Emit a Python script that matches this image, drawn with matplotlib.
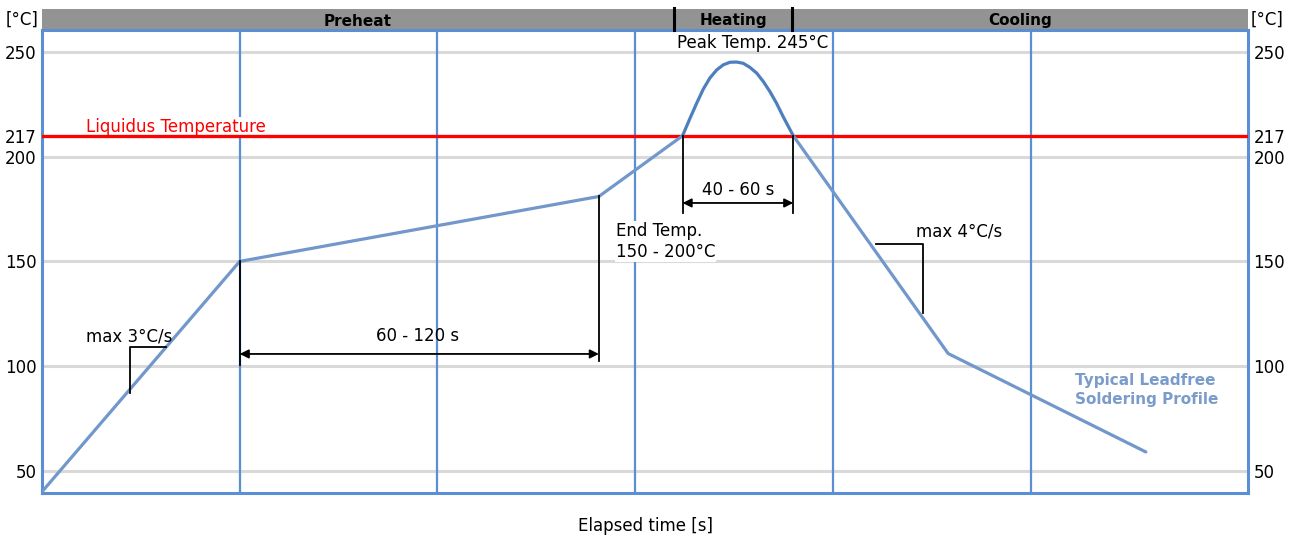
"""
Typical leadfree soldering profile (reflow chart)
"""

import matplotlib
matplotlib.use('Agg')
import matplotlib.pyplot as plt
from matplotlib.patches import Rectangle

# profile data (elapsed time [s], temperature [°C])
ramp_t = [0, 60, 169, 194.4]
ramp_T = [40, 150, 181, 210]

peak_t = [194.4, 196.7, 198.7, 200.7, 202.7, 204.8, 206.8, 208.8, 210.8,
          212.8, 214.8, 216.9, 218.9, 220.9, 222.9, 224.9, 228.0]
peak_T = [210, 218.5, 225.6, 232.3, 237.6, 241.5, 243.9, 245.1, 245.2,
          244.6, 242.7, 239.9, 235.9, 231.1, 225.6, 219.2, 210]

cool_t = [228.0, 275, 335]
cool_T = [210, 106, 59]

# liquidus line is drawn at 210 on the linear scale but labelled 217
liquidus_pos = 210
liquidus_label = '217'

ytick_vals = [50, 100, 150, 200, liquidus_pos, 250]
ytick_labels = ['50', '100', '150', '200', liquidus_label, '250']
grid_T = [50, 100, 150, 200, 250]
grid_t = [60, 120, 180, 240, 300]

phases = ['Preheat', 'Heating', 'Cooling']
phase_edges = [0, 191.8, 227.6, 366]

BLUE_GRID = '#5b8fd5'
PROFILE = '#7197cb'
PEAK = '#4d7fbf'
TEXT_BLUE = '#7a9ccb'
FS = 12
FS_BOLD = 11

fig = plt.figure(figsize=(12.93, 5.36), dpi=100)
ax = fig.add_axes([42/1293, 43/536, 1206/1293, 463/536])
ax.set_xlim(0, 366)
ax.set_ylim(39.4, 260.5)

# grid
for T in grid_T:
    ax.axhline(T, color='#d9d9d9', lw=2.2, zorder=1)
for t in grid_t:
    ax.axvline(t, color=BLUE_GRID, lw=1.6, zorder=2)
ax.axhline(liquidus_pos, color='#ff0000', lw=2.4, zorder=4)

for s in ax.spines.values():
    s.set_color(BLUE_GRID)
    s.set_linewidth(2.2)

ax.set_xticks([])
ax.set_yticks(ytick_vals)
ax.set_yticklabels(ytick_labels)
ax.tick_params(axis='y', length=0, labelsize=FS, labelright=True, pad=4)

# profile
ax.plot(ramp_t, ramp_T, color=PROFILE, lw=2.3, zorder=5, solid_capstyle='round')
ax.plot(cool_t, cool_T, color=PROFILE, lw=2.3, zorder=5, solid_capstyle='round')
ax.plot(peak_t, peak_T, color=PEAK, lw=2.3, zorder=6, solid_capstyle='round')

# dimension lines
k = dict(color='black', lw=1.3, zorder=7)
ax.plot([60, 60], [150, 100.5], **k)
ax.plot([169, 169], [181, 102.4], **k)
ax.plot([194.4, 194.4], [210, 173.1], **k)
ax.plot([228, 228], [210, 173.1], **k)
# slope markers
ax.plot([37.6, 26.7, 26.7], [109.1, 109.1, 87.2], **k)
ax.plot([253.1, 267.4, 267.4], [158.3, 158.3, 125.4], **k)

arrow = dict(arrowstyle='<|-|>', color='black', lw=1.3, mutation_scale=13,
             shrinkA=0, shrinkB=0)
ax.annotate('', xy=(60, 105.8), xytext=(169, 105.8), arrowprops=arrow, zorder=7)
ax.annotate('', xy=(194.4, 177.9), xytext=(228, 177.9), arrowprops=arrow, zorder=7)

white = dict(facecolor='white', edgecolor='none', pad=0.5)
ax.text(13.4, 214.3, 'Liquidus Temperature', color='#ff0000', fontsize=FS,
        va='center', ha='left', bbox=white, zorder=3)
ax.text(13.4, 114.0, 'max 3°C/s', fontsize=FS, va='center', ha='left', zorder=8)
ax.text(114.1, 114.4, '60 - 120 s', fontsize=FS, va='center', ha='center', zorder=8)
ax.text(174.2, 159.6, 'End Temp.\n150 - 200°C', fontsize=FS, va='center',
        ha='left', linespacing=1.25, bbox=white, zorder=3)
ax.text(211.2, 184.0, '40 - 60 s', fontsize=FS, va='center', ha='center', zorder=8)
ax.text(265.3, 164.4, 'max 4°C/s', fontsize=FS, va='center', ha='left', zorder=8)
ax.text(215.8, 254.5, 'Peak Temp. 245°C', fontsize=FS, va='center', ha='center', zorder=8)
ax.text(313.5, 88.6, 'Typical Leadfree\nSoldering Profile', fontsize=FS_BOLD,
        fontweight='bold', color=TEXT_BLUE, va='center', ha='left',
        linespacing=1.4, zorder=8)

# phase header bar
hb = ax.get_xaxis_transform()
ax.add_patch(Rectangle((0, 1 + 1/463), 1, 20/463, transform=ax.transAxes,
                       facecolor='#939393', edgecolor='none', clip_on=False, zorder=3))
for t in phase_edges[1:3]:
    ax.plot([t, t], [1, 1 + 22/463], color='black', lw=2.2, transform=hb,
            clip_on=False, zorder=4)
for i, name in enumerate(phases):
    mid = (phase_edges[i] + phase_edges[i + 1]) / 2
    ax.text(mid, 1 + 9/463, name, transform=hb, fontsize=FS_BOLD, fontweight='bold',
            ha='center', va='center', zorder=5)

ax.text(-20/1206, 1 + 10/463, '[°C]', transform=ax.transAxes, fontsize=FS,
        ha='center', va='center')
ax.text(1 + 19/1206, 1 + 10/463, '[°C]', transform=ax.transAxes, fontsize=FS,
        ha='center', va='center')

fig.text(645/1293, 1 - 526/536, 'Elapsed time [s]', fontsize=FS,
         ha='center', va='center')

plt.savefig('out.png', dpi=100)
plt.close()
